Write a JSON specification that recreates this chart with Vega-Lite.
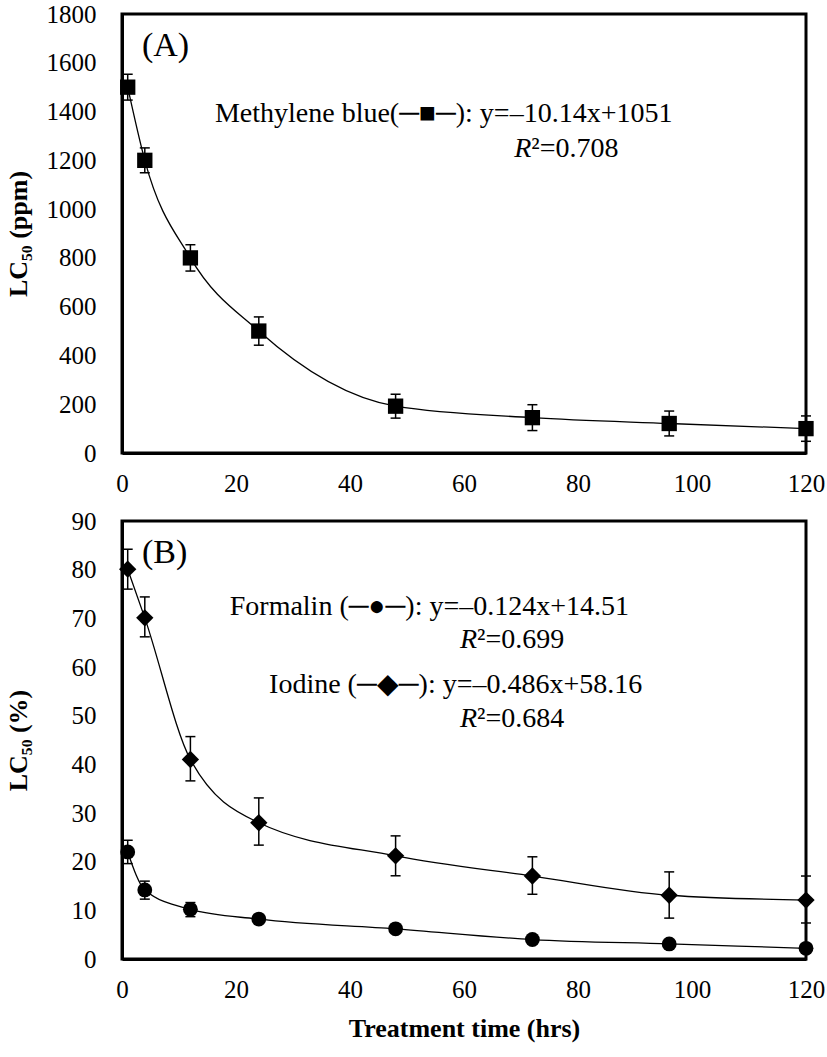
{
  "$schema": "https://vega.github.io/schema/vega-lite/v6.json",
  "padding": {"left": 3, "top": 0, "right": 3, "bottom": 5},
  "spacing": 9,
  "datasets": {
    "pts": [
      {"panel": "A", "series": "Methylene blue", "t": 1, "v": 1500, "lo": 1447, "hi": 1553},
      {"panel": "A", "series": "Methylene blue", "t": 4, "v": 1200, "lo": 1149, "hi": 1251},
      {"panel": "A", "series": "Methylene blue", "t": 12, "v": 800, "lo": 746, "hi": 854},
      {"panel": "A", "series": "Methylene blue", "t": 24, "v": 500, "lo": 442, "hi": 558},
      {"panel": "A", "series": "Methylene blue", "t": 48, "v": 192, "lo": 143, "hi": 241},
      {"panel": "A", "series": "Methylene blue", "t": 72, "v": 145, "lo": 92, "hi": 198},
      {"panel": "A", "series": "Methylene blue", "t": 96, "v": 121, "lo": 70, "hi": 172},
      {"panel": "A", "series": "Methylene blue", "t": 120, "v": 100, "lo": 48, "hi": 152},
      {"panel": "B", "series": "Formalin", "t": 1, "v": 22, "lo": 19.6, "hi": 24.4},
      {"panel": "B", "series": "Formalin", "t": 4, "v": 14.2, "lo": 12.3, "hi": 16},
      {"panel": "B", "series": "Formalin", "t": 12, "v": 10.2, "lo": 8.7, "hi": 11.6},
      {"panel": "B", "series": "Formalin", "t": 24, "v": 8.2, "lo": 7.6, "hi": 8.8},
      {"panel": "B", "series": "Formalin", "t": 48, "v": 6.2, "lo": 5.6, "hi": 6.8},
      {"panel": "B", "series": "Formalin", "t": 72, "v": 4, "lo": 3.4, "hi": 4.6},
      {"panel": "B", "series": "Formalin", "t": 96, "v": 3.1, "lo": 2.5, "hi": 3.7},
      {"panel": "B", "series": "Formalin", "t": 120, "v": 2.2, "lo": 1.6, "hi": 2.8},
      {"panel": "B", "series": "Iodine", "t": 1, "v": 80.1, "lo": 76, "hi": 84.2},
      {"panel": "B", "series": "Iodine", "t": 4, "v": 70.1, "lo": 66.2, "hi": 74.4},
      {"panel": "B", "series": "Iodine", "t": 12, "v": 41, "lo": 36.6, "hi": 45.7},
      {"panel": "B", "series": "Iodine", "t": 24, "v": 28, "lo": 23.4, "hi": 33.1},
      {"panel": "B", "series": "Iodine", "t": 48, "v": 21.2, "lo": 17.1, "hi": 25.3},
      {"panel": "B", "series": "Iodine", "t": 72, "v": 17.05, "lo": 13.3, "hi": 21},
      {"panel": "B", "series": "Iodine", "t": 96, "v": 13.1, "lo": 8.4, "hi": 17.9},
      {"panel": "B", "series": "Iodine", "t": 120, "v": 12.1, "lo": 7.4, "hi": 17.05}
    ],
    "ticks": [
      {"panel": "A", "axis": "x", "t": 20}, {"panel": "A", "axis": "x", "t": 40}, {"panel": "A", "axis": "x", "t": 60},
      {"panel": "A", "axis": "x", "t": 80}, {"panel": "A", "axis": "x", "t": 100},
      {"panel": "A", "axis": "y", "v": 200}, {"panel": "A", "axis": "y", "v": 400}, {"panel": "A", "axis": "y", "v": 600},
      {"panel": "A", "axis": "y", "v": 800}, {"panel": "A", "axis": "y", "v": 1000}, {"panel": "A", "axis": "y", "v": 1200},
      {"panel": "A", "axis": "y", "v": 1400}, {"panel": "A", "axis": "y", "v": 1600},
      {"panel": "B", "axis": "x", "t": 20}, {"panel": "B", "axis": "x", "t": 40}, {"panel": "B", "axis": "x", "t": 60},
      {"panel": "B", "axis": "x", "t": 80}, {"panel": "B", "axis": "x", "t": 100},
      {"panel": "B", "axis": "y", "v": 10}, {"panel": "B", "axis": "y", "v": 20}, {"panel": "B", "axis": "y", "v": 30},
      {"panel": "B", "axis": "y", "v": 40}, {"panel": "B", "axis": "y", "v": 50}, {"panel": "B", "axis": "y", "v": 60},
      {"panel": "B", "axis": "y", "v": 70}, {"panel": "B", "axis": "y", "v": 80}
    ],
    "notes": [
      {"panel": "A", "kind": "tag", "t": 3.5, "v": 1629, "label": "(A)"},
      {"panel": "A", "kind": "eq", "t": 16.3, "v": 1356, "label": "Methylene blue(─■─): y=–10.14x+1051"},
      {"panel": "A", "kind": "r", "t": 71.8, "v": 1214, "label": "R"},
      {"panel": "A", "kind": "r2", "t": 71.8, "v": 1214, "label": "²=0.708"},
      {"panel": "B", "kind": "tag", "t": 3.5, "v": 81.4, "label": "(B)"},
      {"panel": "B", "kind": "eq", "t": 18.9, "v": 70.7, "label": "Formalin (─●─): y=–0.124x+14.51"},
      {"panel": "B", "kind": "r", "t": 62.3, "v": 63.9, "label": "R"},
      {"panel": "B", "kind": "r2", "t": 62.3, "v": 63.9, "label": "²=0.699"},
      {"panel": "B", "kind": "eq", "t": 25.8, "v": 54.65, "label": "Iodine (─◆─): y=–0.486x+58.16"},
      {"panel": "B", "kind": "r", "t": 62.3, "v": 47.7, "label": "R"},
      {"panel": "B", "kind": "r2", "t": 62.3, "v": 47.7, "label": "²=0.684"}
    ]
  },
  "vconcat": [
    {
      "width": 684,
      "height": 439,
      "encoding": {
        "x": {"field": "t", "type": "quantitative", "scale": {"domain": [0, 120], "nice": false},
              "axis": {"title": null, "values": [0, 20, 40, 60, 80, 100, 120], "format": "d", "ticks": false}},
        "y": {"field": "v", "type": "quantitative", "scale": {"domain": [0, 1800], "nice": false},
              "axis": {"title": "LC₅₀ (ppm)", "values": [0, 200, 400, 600, 800, 1000, 1200, 1400, 1600, 1800], "format": "d", "ticks": false}}
      },
      "layer": [
        {"data": {"name": "ticks"}, "transform": [{"filter": "datum.panel === 'A' && datum.axis === 'x'"}],
         "mark": {"type": "tick", "orient": "vertical", "size": 10, "thickness": 3, "yOffset": -5, "color": "black", "opacity": 1},
         "encoding": {"y": {"datum": 0}}},
        {"data": {"name": "ticks"}, "transform": [{"filter": "datum.panel === 'A' && datum.axis === 'y'"}],
         "mark": {"type": "tick", "orient": "horizontal", "size": 10, "thickness": 3, "xOffset": 5, "color": "black", "opacity": 1},
         "encoding": {"x": {"datum": 0}}},
        {"data": {"name": "pts"}, "transform": [{"filter": "datum.panel === 'A'"}],
         "mark": {"type": "line", "interpolate": "monotone", "color": "black", "strokeWidth": 1.3}},
        {"data": {"name": "pts"}, "transform": [{"filter": "datum.panel === 'A'"}],
         "mark": {"type": "rule", "color": "black", "strokeWidth": 1.5},
         "encoding": {"y": {"field": "lo", "type": "quantitative"}, "y2": {"field": "hi"}}},
        {"data": {"name": "pts"}, "transform": [{"filter": "datum.panel === 'A'"}],
         "mark": {"type": "tick", "orient": "horizontal", "size": 10, "thickness": 1.5, "color": "black", "opacity": 1},
         "encoding": {"y": {"field": "lo", "type": "quantitative"}}},
        {"data": {"name": "pts"}, "transform": [{"filter": "datum.panel === 'A'"}],
         "mark": {"type": "tick", "orient": "horizontal", "size": 10, "thickness": 1.5, "color": "black", "opacity": 1},
         "encoding": {"y": {"field": "hi", "type": "quantitative"}}},
        {"data": {"name": "pts"}, "transform": [{"filter": "datum.panel === 'A'"}],
         "mark": {"type": "point", "shape": "square", "filled": true, "size": 235, "color": "black", "opacity": 1}},
        {"data": {"name": "notes"}, "transform": [{"filter": "datum.panel === 'A' && datum.kind === 'tag'"}],
         "mark": {"type": "text", "align": "left", "baseline": "alphabetic", "font": "Liberation Serif", "fontSize": 34, "color": "black"},
         "encoding": {"text": {"field": "label"}}},
        {"data": {"name": "notes"}, "transform": [{"filter": "datum.panel === 'A' && (datum.kind === 'eq' || datum.kind === 'r2')"}],
         "mark": {"type": "text", "align": "left", "baseline": "alphabetic", "font": "Liberation Serif", "fontSize": 28, "color": "black"},
         "encoding": {"text": {"field": "label"}}},
        {"data": {"name": "notes"}, "transform": [{"filter": "datum.panel === 'A' && datum.kind === 'r'"}],
         "mark": {"type": "text", "align": "right", "baseline": "alphabetic", "font": "Liberation Serif", "fontStyle": "italic", "fontSize": 28, "color": "black"},
         "encoding": {"text": {"field": "label"}}}
      ]
    },
    {
      "width": 684,
      "height": 438,
      "encoding": {
        "x": {"field": "t", "type": "quantitative", "scale": {"domain": [0, 120], "nice": false},
              "axis": {"title": "Treatment time (hrs)", "titlePadding": 13, "values": [0, 20, 40, 60, 80, 100, 120], "format": "d", "ticks": false}},
        "y": {"field": "v", "type": "quantitative", "scale": {"domain": [0, 90], "nice": false},
              "axis": {"title": "LC₅₀ (%)", "values": [0, 10, 20, 30, 40, 50, 60, 70, 80, 90], "format": "d", "ticks": false}}
      },
      "layer": [
        {"data": {"name": "ticks"}, "transform": [{"filter": "datum.panel === 'B' && datum.axis === 'x'"}],
         "mark": {"type": "tick", "orient": "vertical", "size": 10, "thickness": 3, "yOffset": -5, "color": "black", "opacity": 1},
         "encoding": {"y": {"datum": 0}}},
        {"data": {"name": "ticks"}, "transform": [{"filter": "datum.panel === 'B' && datum.axis === 'y'"}],
         "mark": {"type": "tick", "orient": "horizontal", "size": 10, "thickness": 3, "xOffset": 5, "color": "black", "opacity": 1},
         "encoding": {"x": {"datum": 0}}},
        {"data": {"name": "pts"}, "transform": [{"filter": "datum.panel === 'B'"}],
         "mark": {"type": "line", "interpolate": "monotone", "color": "black", "strokeWidth": 1.3},
         "encoding": {"detail": {"field": "series"}}},
        {"data": {"name": "pts"}, "transform": [{"filter": "datum.panel === 'B'"}],
         "mark": {"type": "rule", "color": "black", "strokeWidth": 1.5},
         "encoding": {"y": {"field": "lo", "type": "quantitative"}, "y2": {"field": "hi"}}},
        {"data": {"name": "pts"}, "transform": [{"filter": "datum.panel === 'B'"}],
         "mark": {"type": "tick", "orient": "horizontal", "size": 10, "thickness": 1.5, "color": "black", "opacity": 1},
         "encoding": {"y": {"field": "lo", "type": "quantitative"}}},
        {"data": {"name": "pts"}, "transform": [{"filter": "datum.panel === 'B'"}],
         "mark": {"type": "tick", "orient": "horizontal", "size": 10, "thickness": 1.5, "color": "black", "opacity": 1},
         "encoding": {"y": {"field": "hi", "type": "quantitative"}}},
        {"data": {"name": "pts"}, "transform": [{"filter": "datum.series === 'Formalin'"}],
         "mark": {"type": "point", "shape": "circle", "filled": true, "size": 220, "color": "black", "opacity": 1}},
        {"data": {"name": "pts"}, "transform": [{"filter": "datum.series === 'Iodine'"}],
         "mark": {"type": "point", "shape": "diamond", "filled": true, "size": 300, "color": "black", "opacity": 1}},
        {"data": {"name": "notes"}, "transform": [{"filter": "datum.panel === 'B' && datum.kind === 'tag'"}],
         "mark": {"type": "text", "align": "left", "baseline": "alphabetic", "font": "Liberation Serif", "fontSize": 34, "color": "black"},
         "encoding": {"text": {"field": "label"}}},
        {"data": {"name": "notes"}, "transform": [{"filter": "datum.panel === 'B' && (datum.kind === 'eq' || datum.kind === 'r2')"}],
         "mark": {"type": "text", "align": "left", "baseline": "alphabetic", "font": "Liberation Serif", "fontSize": 28, "color": "black"},
         "encoding": {"text": {"field": "label"}}},
        {"data": {"name": "notes"}, "transform": [{"filter": "datum.panel === 'B' && datum.kind === 'r'"}],
         "mark": {"type": "text", "align": "right", "baseline": "alphabetic", "font": "Liberation Serif", "fontStyle": "italic", "fontSize": 28, "color": "black"},
         "encoding": {"text": {"field": "label"}}}
      ]
    }
  ],
  "config": {
    "font": "Liberation Serif",
    "view": {"stroke": "black", "strokeWidth": 3},
    "axis": {
      "grid": false,
      "domainColor": "black",
      "domainWidth": 3,
      "labelFont": "Liberation Serif",
      "labelFontSize": 25,
      "labelColor": "black",
      "labelFlush": false,
      "labelOverlap": false,
      "titleFont": "Liberation Serif",
      "titleFontWeight": "bold",
      "titleFontSize": 26,
      "titleColor": "black"
    },
    "axisY": {"labelPadding": 26, "titleX": -96, "titleBaseline": "alphabetic"},
    "axisX": {"labelPadding": 18}
  }
}
